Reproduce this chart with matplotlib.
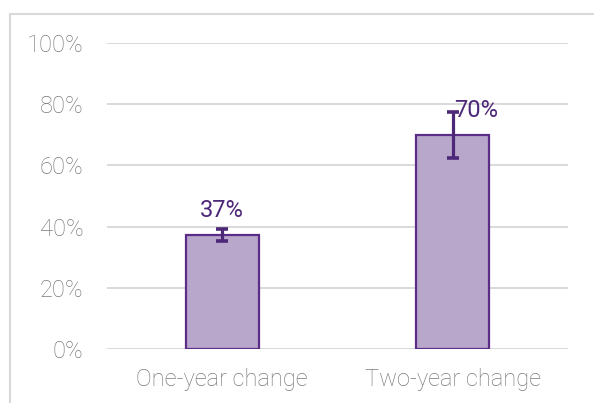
import matplotlib.pyplot as plt
from matplotlib.lines import Line2D
import numpy as np

categories = ["One-year change", "Two-year change"]
values = [37.3, 69.9]
errors = [2.0, 7.4]
labels = ["37%", "70%"]

BAR_FILL = "#B8A7CB"
BAR_EDGE = "#5B2D86"
ERR_COLOR = "#4E2878"
GRID = "#D9D9D9"
TICK = "#7A7A7A"

fig = plt.figure(figsize=(5.94, 4.03), dpi=100)
ax = fig.add_axes([107/594, 54/403, 461/594, 306/403])

x = np.arange(len(categories))
ax.bar(x, values, width=0.315, color=BAR_FILL, edgecolor=BAR_EDGE,
       linewidth=1.6, zorder=3)
ax.errorbar(x, values, yerr=errors, fmt="none", ecolor=ERR_COLOR,
            elinewidth=2.3, capsize=4.3, capthick=2.6, zorder=4)

# data labels (second one pushed right of the error bar)
ax.text(x[0], values[0] + errors[0] + 2.3, labels[0], ha="center", va="bottom",
        fontsize=17, color=ERR_COLOR, family="Roboto")
ax.text(x[1] + 0.1, values[1] + 8.2, labels[1], ha="center", va="center",
        fontsize=17, color=ERR_COLOR, family="Roboto")

ax.set_xlim(-0.5, 1.5)
ax.set_ylim(0, 100)
ax.set_yticks(np.arange(0, 101, 20))
ax.set_yticklabels([f"{v}%" for v in range(0, 101, 20)])
ax.set_xticks(x)
ax.set_xticklabels(categories)
for lab in ax.get_xticklabels() + ax.get_yticklabels():
    lab.set_family("Roboto")
    lab.set_fontweight("light")
    lab.set_fontsize(17)
    lab.set_color(TICK)
ax.tick_params(length=0)
ax.tick_params(axis="y", pad=17)
ax.tick_params(axis="x", pad=14)

ax.yaxis.grid(True, color=GRID, linewidth=1.4, zorder=0)
ax.set_axisbelow(True)
for s in ax.spines.values():
    s.set_visible(False)

# outer chart border (cut off at right and bottom)
fig.add_artist(Line2D([10/594, 1], [1 - 14/403, 1 - 14/403],
                      color=GRID, linewidth=1.5, transform=fig.transFigure))
fig.add_artist(Line2D([10/594, 10/594], [0, 1 - 14/403],
                      color=GRID, linewidth=1.5, transform=fig.transFigure))

fig.savefig("out.png", dpi=100)
